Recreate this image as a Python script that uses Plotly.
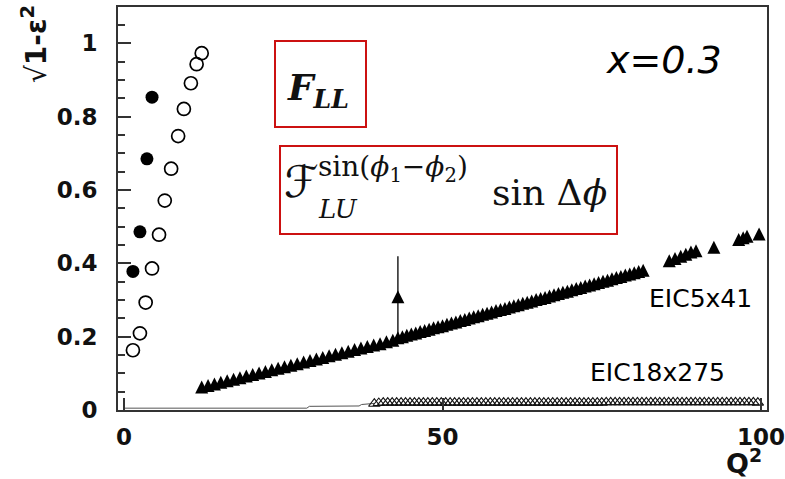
import plotly.graph_objects as go

# ---- data (Q^2 on x, sqrt(1-eps^2) on y) ----
hall_solid_q2 = [1.4, 2.5, 3.6, 4.4]
hall_solid_val = [0.378, 0.486, 0.685, 0.853]

hall_open_q2 = [1.4, 2.5, 3.4, 4.4, 5.5, 6.4, 7.4, 8.5, 9.4, 10.5, 11.4, 12.2]
hall_open_val = [0.163, 0.209, 0.293, 0.386, 0.478, 0.571, 0.658, 0.747, 0.821, 0.891, 0.943, 0.973]

eic5_q2 = [
    12.2, 13.2, 14.2, 15.2, 16.2, 17.2, 18.2, 19.2, 20.2, 21.2,
    22.2, 23.2, 24.2, 25.2, 26.2, 27.2, 28.2, 29.2, 30.2, 31.2,
    32.2, 33.2, 34.2, 35.2, 36.2, 37.2, 38.2, 39.2, 40.2, 41.2,
    42.2,
    43.0, 43.7, 44.4, 45.1, 45.8, 46.5, 47.2, 47.9, 48.6, 49.3,
    50.0, 50.7, 51.4, 52.1, 52.8, 53.5, 54.2, 54.9, 55.6, 56.3,
    57.0, 57.7, 58.4, 59.1, 59.8, 60.5, 61.2, 61.9, 62.6, 63.3,
    64.0, 64.7, 65.4, 66.1, 66.8, 67.5, 68.2, 68.9, 69.6, 70.3,
    71.0, 71.7, 72.4, 73.1, 73.8, 74.5, 75.2, 75.9, 76.6, 77.3,
    78.0, 78.7, 79.4, 80.1, 80.8, 81.5,
    85.6, 86.5, 87.4, 88.2, 89.0, 89.8, 92.6, 96.5, 97.2, 97.8, 99.7,
]
eic5_val = [
    0.063, 0.067, 0.071, 0.076, 0.080, 0.084, 0.088, 0.093, 0.097, 0.101,
    0.105, 0.110, 0.114, 0.118, 0.122, 0.126, 0.131, 0.135, 0.139, 0.143,
    0.148, 0.152, 0.156, 0.160, 0.165, 0.169, 0.173, 0.177, 0.181, 0.186,
    0.190,
    0.197, 0.200, 0.204, 0.207, 0.210, 0.214, 0.217, 0.220, 0.224, 0.227,
    0.230, 0.234, 0.237, 0.240, 0.244, 0.247, 0.251, 0.254, 0.257, 0.261,
    0.264, 0.267, 0.271, 0.274, 0.277, 0.281, 0.284, 0.287, 0.291, 0.294,
    0.297, 0.301, 0.304, 0.307, 0.311, 0.314, 0.318, 0.321, 0.324, 0.328,
    0.331, 0.334, 0.338, 0.341, 0.344, 0.348, 0.351, 0.354, 0.358, 0.361,
    0.364, 0.368, 0.371, 0.374, 0.378, 0.381,
    0.407, 0.413, 0.419, 0.425, 0.431, 0.434, 0.444, 0.465, 0.470, 0.474, 0.480,
]

# single point with its uncertainty
eic5_err_q2 = [43.0]
eic5_err_val = [0.309]
eic5_err_size = [0.11]

eic18_q2 = [
    39.3, 40.0, 40.7, 41.4, 42.1, 42.8, 43.5, 44.2, 44.9, 45.6,
    46.3, 47.0, 47.7, 48.4, 49.1, 49.8, 50.5, 51.2, 51.9, 52.6,
    53.3, 54.0, 54.7, 55.4, 56.1, 56.8, 57.5, 58.2, 58.9, 59.6,
    60.3, 61.0, 61.7, 62.4, 63.1, 63.8, 64.5, 65.2, 65.9, 66.6,
    67.3, 68.0, 68.7, 69.4, 70.1, 70.8, 71.5, 72.2, 72.9, 73.6,
    74.3, 75.0, 75.7, 76.4, 77.1, 77.8, 78.5, 79.2, 79.9, 80.6,
    81.3, 82.0, 82.7, 83.4, 84.1, 84.8, 85.5, 86.2, 86.9, 87.6,
    88.3, 89.0, 89.7, 90.4, 91.1, 91.8, 92.5, 93.2, 93.9, 94.6,
    95.3, 96.0, 96.7, 97.4, 98.1, 98.8, 99.5,
]
eic18_val = [
    0.017, 0.019, 0.020, 0.020, 0.020, 0.020, 0.020, 0.020, 0.020, 0.020,
    0.020, 0.020, 0.020, 0.020, 0.020, 0.020, 0.020, 0.020, 0.020, 0.020,
    0.020, 0.020, 0.020, 0.020, 0.020, 0.020, 0.020, 0.020, 0.020, 0.020,
    0.020, 0.020, 0.020, 0.020, 0.020, 0.020, 0.020, 0.020, 0.020, 0.020,
    0.020, 0.020, 0.020, 0.020, 0.020, 0.020, 0.020, 0.020, 0.020, 0.020,
    0.020, 0.020, 0.021, 0.021, 0.021, 0.021, 0.021, 0.021, 0.021, 0.021,
    0.021, 0.021, 0.021, 0.021, 0.021, 0.021, 0.021, 0.021, 0.021, 0.021,
    0.021, 0.021, 0.021, 0.021, 0.021, 0.021, 0.021, 0.021, 0.021, 0.021,
    0.021, 0.021, 0.021, 0.021, 0.021, 0.021, 0.020,
]

# thin curve running along the axis below the EIC18x275 points
eic18_line_q2 = [0.0, 28.7, 29.1, 36.9, 37.3, 39.3]
eic18_line_val = [0.005, 0.005, 0.010, 0.011, 0.015, 0.018]

x_ticks = [0, 50, 100]
y_ticks = [0, 0.2, 0.4, 0.6, 0.8, 1.0]
y_tick_text = ["0", "0.2", "0.4", "0.6", "0.8", "1"]

# ---- layout geometry (pixels of the 785x479 page) ----
W, H = 785, 479
PL, PR, PT, PB = 118, 767, 7, 410


def fx(p):
    return (p - PL) / (PR - PL)


def fy(p):
    return (PB - p) / (PB - PT)


fig = go.Figure()

fig.add_trace(go.Scatter(
    x=eic18_line_q2, y=eic18_line_val, mode="lines",
    line=dict(color="#555555", width=1), hoverinfo="skip", showlegend=False))

fig.add_trace(go.Scatter(
    x=eic18_q2, y=eic18_val, mode="markers",
    marker=dict(symbol="triangle-up-open", size=10, color="#111111",
                line=dict(width=1.1, color="#111111")),
    showlegend=False))

# filled triangles: an equal-sided arrowhead turned to point up and shifted by
# half its height, so the marker is centred on its point
tri_size = 13
tri_marker = dict(symbol="arrow-down", angle=180, size=tri_size, color="black",
                  line=dict(width=0), standoff=tri_size / 2)

fig.add_trace(go.Scatter(
    x=eic5_q2, y=eic5_val, mode="markers",
    marker=tri_marker, showlegend=False))

fig.add_trace(go.Scatter(
    x=eic5_err_q2, y=eic5_err_val, mode="markers",
    marker=tri_marker,
    error_y=dict(type="data", array=eic5_err_size, width=0, thickness=1.3, color="black"),
    showlegend=False))

fig.add_trace(go.Scatter(
    x=hall_open_q2, y=hall_open_val, mode="markers",
    marker=dict(symbol="circle-open", size=13, color="black", line=dict(width=1.7)),
    showlegend=False))

fig.add_trace(go.Scatter(
    x=hall_solid_q2, y=hall_solid_val, mode="markers",
    marker=dict(symbol="circle", size=13, color="black", line=dict(width=0)),
    showlegend=False))

axis_font = dict(family="DejaVu Sans", size=23, color="#111111", weight="bold")

fig.update_xaxes(
    range=[-(124 - PL) / 6.37, (PR - 124) / 6.37],
    tickvals=x_ticks, ticktext=[str(v) for v in x_ticks],
    ticks="inside", ticklen=12, tickwidth=1.5, tickcolor="#333333",
    showline=True, linecolor="#333333", linewidth=2, mirror=True,
    showgrid=False, zeroline=False, automargin=False,
    tickfont=axis_font, ticklabelstandoff=5, ticklabeloverflow="allow",
)
fig.update_yaxes(
    range=[0, (PB - PT) / 366.7],
    tickvals=y_ticks, ticktext=y_tick_text,
    ticks="inside", ticklen=13, tickwidth=1.5, tickcolor="#333333",
    minor=dict(ticks="inside", ticklen=7, tickwidth=1.5, tickcolor="#333333", dtick=0.05),
    showline=True, linecolor="#333333", linewidth=2, mirror=True,
    showgrid=False, zeroline=False, automargin=False,
    tickfont=axis_font, ticklabelstandoff=14, ticklabeloverflow="allow",
)

annotations = [
    # axis titles
    dict(text="<b>Q<sup>2</sup></b>", x=fx(744), y=fy(462),
         font=dict(family="DejaVu Sans", size=27, color="#111111")),
    dict(text="√<b>1-ε<sup>2</sup></b>", x=fx(35), y=fy(44), textangle=-90,
         font=dict(family="DejaVu Sans", size=28, color="#111111")),
    # kinematics and beam labels
    dict(text="<i>x=0.3</i>", x=fx(664), y=fy(60),
         font=dict(family="DejaVu Sans", size=38, color="black")),
    dict(text="EIC5x41", x=fx(700), y=fy(298),
         font=dict(family="DejaVu Sans", size=25, color="black")),
    dict(text="EIC18x275", x=fx(657), y=fy(372),
         font=dict(family="DejaVu Sans", size=25, color="black")),
    # structure-function labels
    dict(text="<b><i>F<sub>LL</sub></i></b>", x=fx(318), y=fy(90),
         font=dict(family="DejaVu Serif", size=36, color="#111111")),
    dict(text="ℱ", x=fx(282), y=fy(181), xanchor="left",
         font=dict(family="DejaVu Serif, DejaVu Sans", size=44, color="#111111")),
    dict(text="sin(<i>ϕ</i><sub>1</sub>−<i>ϕ</i><sub>2</sub>)", x=fx(316), y=fy(168),
         xanchor="left",
         font=dict(family="DejaVu Serif", size=28, color="#111111")),
    dict(text="<i>LU</i>", x=fx(316), y=fy(209), xanchor="left",
         font=dict(family="DejaVu Serif", size=26, color="#111111")),
    dict(text="sin Δ<i>ϕ</i>", x=fx(490), y=fy(192), xanchor="left",
         font=dict(family="DejaVu Serif", size=36, color="#111111")),
]
for a in annotations:
    a.setdefault("xanchor", "center")
    a.setdefault("yanchor", "middle")
    a.update(xref="paper", yref="paper", showarrow=False)

shapes = [
    dict(type="rect", xref="paper", yref="paper",
         x0=fx(275), x1=fx(366), y0=fy(127), y1=fy(41),
         line=dict(color="#cc1111", width=2)),
    dict(type="rect", xref="paper", yref="paper",
         x0=fx(280), x1=fx(617), y0=fy(234), y1=fy(146),
         line=dict(color="#cc1111", width=2)),
]

fig.update_layout(
    width=W, height=H, autosize=False,
    margin=dict(l=PL, r=W - PR, t=PT, b=H - PB, pad=0, autoexpand=False),
    paper_bgcolor="white", plot_bgcolor="white",
    annotations=annotations, shapes=shapes,
    showlegend=False,
)

fig.write_html("out.html")
